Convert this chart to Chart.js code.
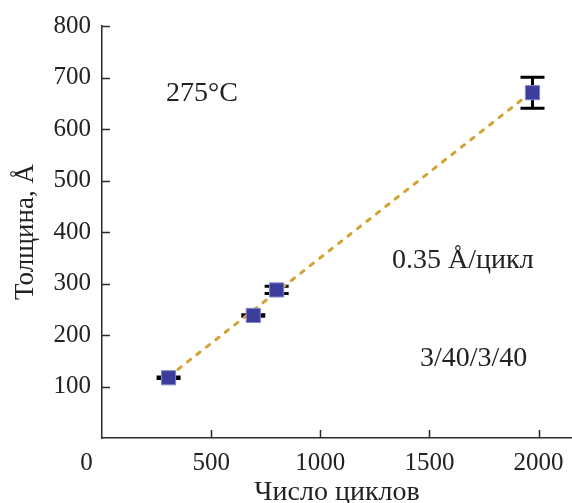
<!DOCTYPE html>
<html>
<head>
<meta charset="utf-8">
<script src="https://cdn.jsdelivr.net/npm/chart.js@4"></script>
<style>
  html, body { margin: 0; padding: 0; background: #fff; }
  #wrap { width: 572px; height: 503px; }
</style>
</head>
<body>
<div id="wrap"><canvas id="chart" width="572" height="503"></canvas></div>
<script>
// measured points: cycles vs thickness (Å)
const cycles = [305, 693, 800, 1972];
const thickness = [117, 238, 287.5, 670.5];
const thicknessErr = [1.5, 1.5, 7, 30];

// linear fit drawn through the ends of the series
const fitCycles = [305, 1972];
const fitThickness = [119, 673];

const xTicks = [0, 500, 1000, 1500, 2000];
const yTicks = [100, 200, 300, 400, 500, 600, 700, 800];

const notes = [
    { text: "275°C", x: 458, y: 669 },
    { text: "0.35 Å/цикл", x: 1653, y: 344 },
    { text: "3/40/3/40", x: 1702, y: 155 },
];

const serif = "'Liberation Serif', 'DejaVu Serif', serif";
const ink = "#2b2b2b";

const errorBars = {
    id: "errorBars",
    beforeDatasetsDraw(chart) {
        const { ctx, scales } = chart;
        ctx.save();
        ctx.strokeStyle = "#000";
        ctx.lineWidth = 3;
        cycles.forEach((c, i) => {
            const px = scales.x.getPixelForValue(c);
            const top = scales.y.getPixelForValue(thickness[i] + thicknessErr[i]);
            const bot = scales.y.getPixelForValue(thickness[i] - thicknessErr[i]);
            ctx.beginPath();
            ctx.moveTo(px, top);
            ctx.lineTo(px, bot);
            ctx.moveTo(px - 12, top);
            ctx.lineTo(px + 12, top);
            ctx.moveTo(px - 12, bot);
            ctx.lineTo(px + 12, bot);
            ctx.stroke();
        });
        ctx.restore();
    },
};

// inward tick marks + free text notes
const decorations = {
    id: "decorations",
    afterDraw(chart) {
        const { ctx, scales, chartArea } = chart;
        ctx.save();
        ctx.strokeStyle = ink;
        ctx.lineWidth = 1.5;
        ctx.beginPath();
        xTicks.filter((v) => v > 0).forEach((v) => {
            const px = Math.round(scales.x.getPixelForValue(v)) + 0.5;
            ctx.moveTo(px, chartArea.bottom);
            ctx.lineTo(px, chartArea.bottom - 8);
        });
        yTicks.forEach((v) => {
            const py = Math.round(scales.y.getPixelForValue(v)) + 0.5;
            ctx.moveTo(chartArea.left, py);
            ctx.lineTo(chartArea.left + 8, py);
        });
        ctx.stroke();

        ctx.fillStyle = "#222";
        ctx.font = "28px " + serif;
        ctx.textAlign = "center";
        ctx.textBaseline = "middle";
        notes.forEach((n) => {
            ctx.fillText(n.text, scales.x.getPixelForValue(n.x), scales.y.getPixelForValue(n.y));
        });
        ctx.restore();
    },
};

const data = {
    datasets: [
        {
            label: "Толщина",
            data: cycles.map((c, i) => ({ x: c, y: thickness[i] })),
            pointStyle: "rect",
            pointRadius: 10,
            pointBackgroundColor: "#3b3d9c",
            pointBorderColor: "#8486cc",
            pointBorderWidth: 1,
            showLine: false,
        },
        {
            label: "fit",
            data: fitCycles.map((c, i) => ({ x: c, y: fitThickness[i] })),
            showLine: true,
            borderColor: "#d2a334",
            borderWidth: 3,
            borderDash: [4, 8],
            borderCapStyle: "round",
            pointRadius: 0,
        },
    ],
};

const options = {
    responsive: false,
    animation: false,
    layout: { autoPadding: false, padding: { top: 24, right: 0, left: 0, bottom: 0 } },
    plugins: {
        legend: { display: false },
        tooltip: { enabled: false },
    },
    scales: {
        x: {
            type: "linear",
            min: 0,
            max: 2153,
            afterBuildTicks: (scale) => {
                scale.ticks = xTicks.map((v) => ({ value: v }));
            },
            afterFit: (scale) => {
                scale.height = 65;
                scale.paddingLeft = 0;
                scale.paddingRight = 0;
            },
            grid: { drawOnChartArea: false, drawTicks: false },
            border: { color: ink, width: 1.5 },
            ticks: {
                padding: 10,
                color: "#222",
                font: { family: serif, size: 25 },
                maxRotation: 0,
                callback: (v) => (v === 0 ? "0     " : String(v)),
            },
            title: {
                display: true,
                text: "Число циклов",
                color: "#222",
                font: { family: serif, size: 28 },
                padding: { top: 0, bottom: -6 },
            },
        },
        y: {
            type: "linear",
            min: 0,
            max: 800,
            afterBuildTicks: (scale) => {
                scale.ticks = yTicks.map((v) => ({ value: v }));
            },
            afterFit: (scale) => {
                scale.width = 102;
            },
            grid: { drawOnChartArea: false, drawTicks: false },
            border: { color: ink, width: 1.5 },
            ticks: {
                padding: 11,
                color: "#222",
                font: { family: serif, size: 25 },
            },
            title: {
                display: true,
                text: "Толщина, Å",
                color: "#222",
                font: { family: serif, size: 27 },
                padding: { top: 10, bottom: 0 },
            },
        },
    },
};

new Chart(document.getElementById("chart"), {
    type: "scatter",
    data: data,
    options: options,
    plugins: [errorBars, decorations],
});
</script>
</body>
</html>
